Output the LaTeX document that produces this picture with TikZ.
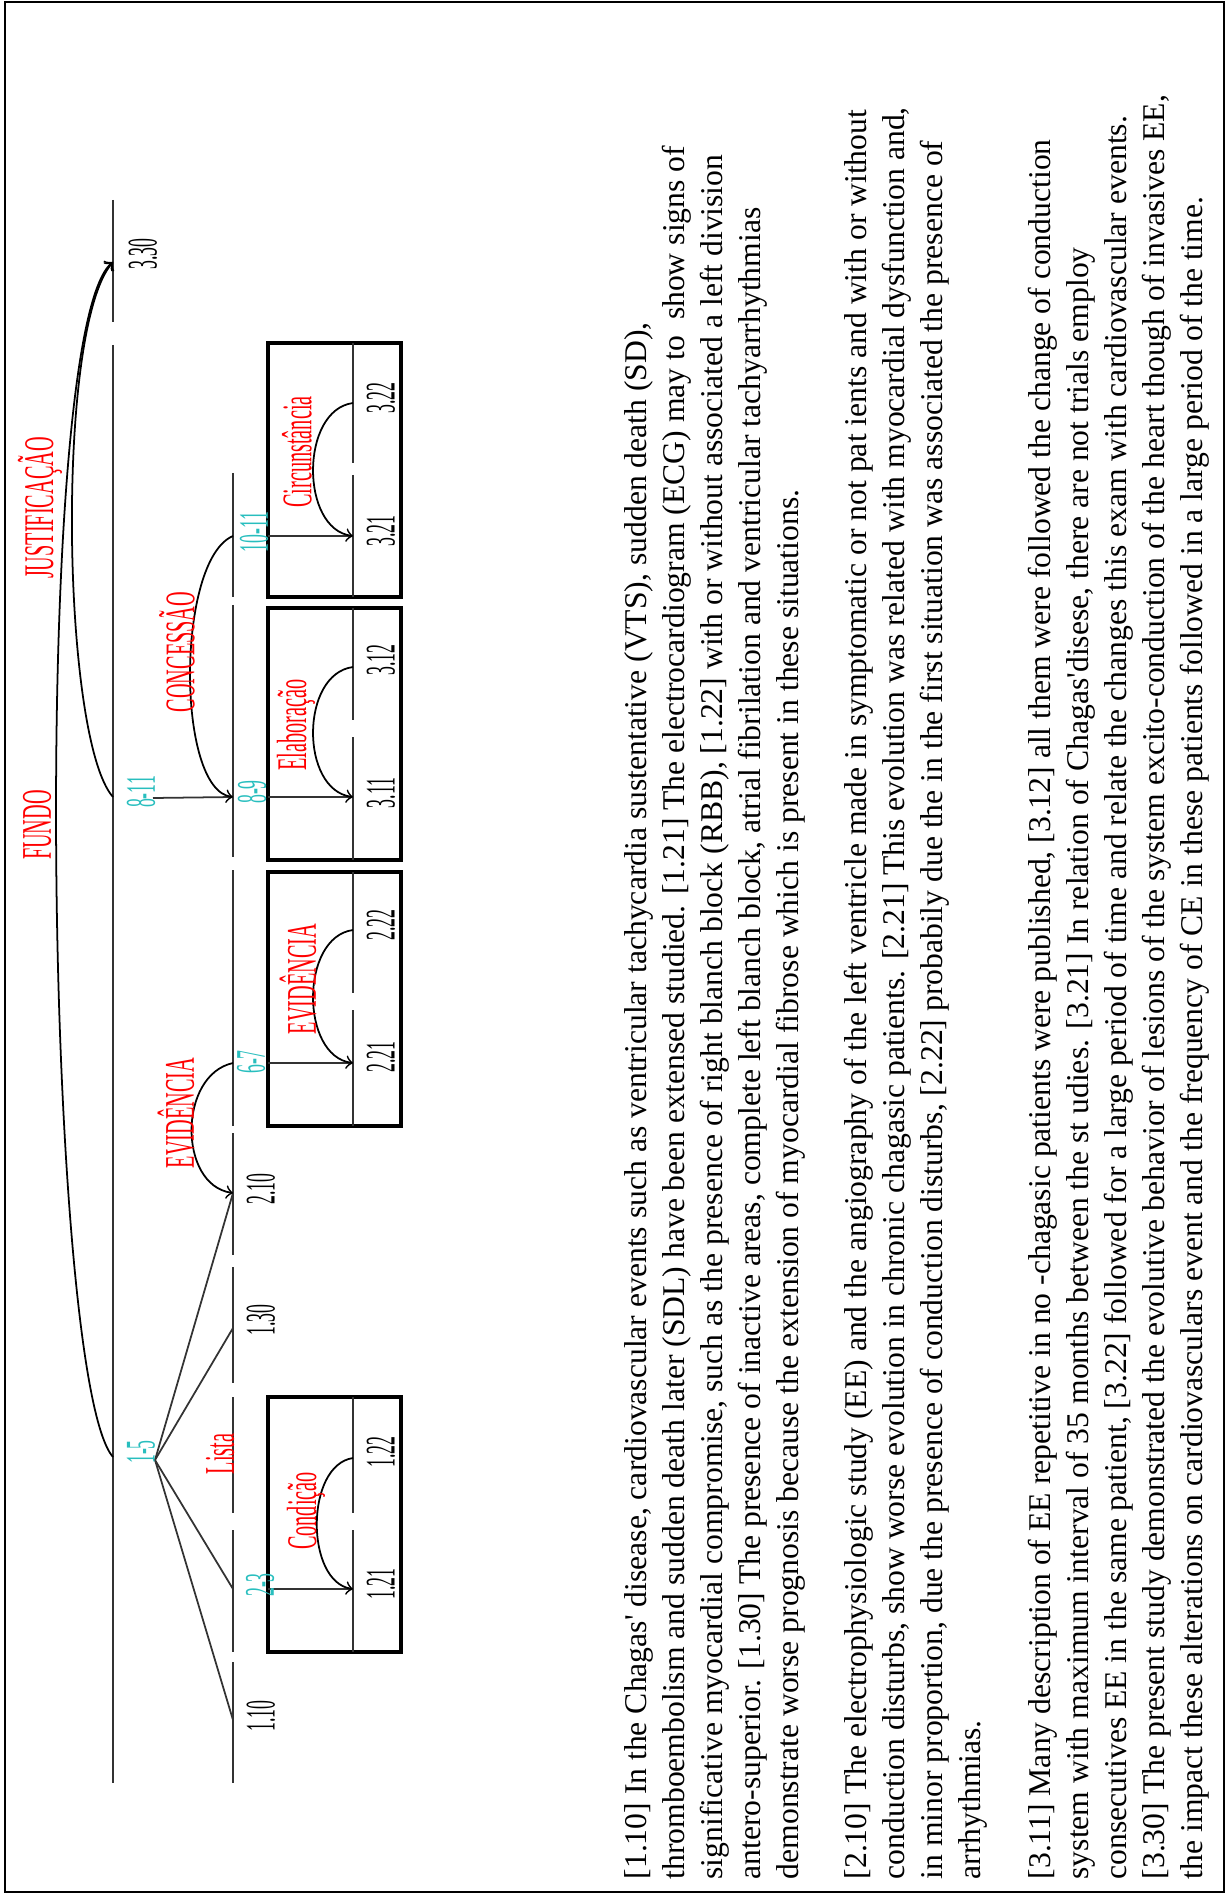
\documentclass[tikz,border=0pt]{standalone}
\usepackage{fontspec}
\setmainfont{Liberation Serif}
\newfontfamily\wordfont[FakeStretch=0.48]{Liberation Serif}
\newfontfamily\numfont[FakeStretch=0.42]{Liberation Serif}
\definecolor{relred}{RGB}{255,0,0}
\definecolor{spancyan}{RGB}{40,190,190}
\tikzset{
  axisline/.style={black!80, line width=0.5pt},
  relarc/.style={->, line width=0.5pt},
  unitbox/.style={line width=1.4pt},
  rellabel/.style={rotate=90, inner sep=0pt, text=relred, font=\wordfont\fontsize{12}{12}\selectfont},
  spanlabel/.style={rotate=90, inner sep=0pt, text=spancyan, font=\numfont\fontsize{12}{12}\selectfont},
  unitlabel/.style={rotate=90, inner sep=0pt, font=\numfont\fontsize{12}{12}\selectfont},
  bodyline/.style={rotate=90, anchor=base west, inner sep=0pt, font=\fontsize{9}{11}\selectfont}
}
\begin{document}
\begin{tikzpicture}[x=0.01cm, y=-0.01cm]
  \useasboundingbox (0,0) rectangle (1228,1895);
  \draw[line width=0.7pt] (5,2) rectangle (1224,1892);

  % the two levels
  \draw[axisline] (113,200) -- (113,322) (113,345) -- (113,1783);
  \foreach \a/\b in {473/597,605/857,870/1126,1133/1255,1267/1383,1397/1513,1530/1652,1662/1783}
    \draw[axisline] (233,\a) -- (233,\b);

  \coordinate (p330) at (113,262);
  \coordinate (p15top) at (113,1457);
  \coordinate (p811top) at (113,797);
  \coordinate (p15) at (155,1460);
  \coordinate (p811) at (153,798);
  \coordinate (p110) at (233,1720);
  \coordinate (p23) at (233,1589);
  \coordinate (p130) at (233,1328);
  \coordinate (p210) at (233,1193);
  \coordinate (p67) at (233,1063);
  \coordinate (p89) at (233,797);
  \coordinate (p1011) at (233,536);

  % fan of the list
  \foreach \p in {p110,p23,p130,p210}
    \draw[axisline] (p15) -- (\p);
  \draw[axisline] (p811) -- (p89);

  % boxes
  \draw[unitbox] (268,1397) rectangle (401,1652);
  \draw[unitbox] (268,872) rectangle (401,1126);
  \draw[unitbox] (268,608) rectangle (401,860);
  \draw[unitbox] (268,343) rectangle (401,597);
  \draw[axisline] (353,1397) -- (353,1513) (353,1530) -- (353,1652);
  \draw[axisline] (353,872) -- (353,993) (353,1010) -- (353,1126);
  \draw[axisline] (353,608) -- (353,720) (353,737) -- (353,860);
  \draw[axisline] (353,343) -- (353,463) (353,475) -- (353,597);

  \coordinate (b121) at (353,1589);
  \coordinate (b122) at (353,1458);
  \coordinate (b221) at (353,1063);
  \coordinate (b222) at (353,930);
  \coordinate (b311) at (353,797);
  \coordinate (b312) at (353,667);
  \coordinate (b321) at (353,536);
  \coordinate (b322) at (353,403);
  \draw[axisline] (268,1589) -- (b121);
  \draw[axisline] (268,1063) -- (b221);
  \draw[axisline] (268,797) -- (b311);
  \draw[axisline] (268,536) -- (b321);

  % relations
  \draw[relarc] (p15top) .. controls (45,1380) and (30,330) .. (p330);
  \draw[relarc] (p811top) .. controls (62,740) and (55,330) .. (p330);
  \draw[relarc] (p67) .. controls (178,1075) and (178,1185) .. (p210);
  \draw[relarc] (p1011) .. controls (176,560) and (176,790) .. (p89);
  \draw[relarc] (b122) .. controls (305,1465) and (305,1582) .. (b121);
  \draw[relarc] (b222) .. controls (300,937) and (300,1056) .. (b221);
  \draw[relarc] (b312) .. controls (300,674) and (300,790) .. (b311);
  \draw[relarc] (b322) .. controls (300,410) and (300,529) .. (b321);

  % labels
  \node[rellabel] (fundo) at (37,825) {FUNDO};
  \node[rellabel] (justif) at (40,508) {JUSTIFICAÇÃO};
  \node[rellabel] (evid) at (176,1113) {EVIDÊNCIA};
  \node[rellabel] (lista) at (220,1454) {Lista};
  \node[rellabel] (conc) at (177,652) {CONCESSÃO};
  \node[rellabel] (cond) at (306,1511) {Condição};
  \node[rellabel] (evidb) at (298,979) {EVIDÊNCIA};
  \node[rellabel] (elab) at (296,725) {Elaboração};
  \node[rellabel] (circ) at (297,452) {Circunstância};

  \node[spanlabel] (s15) at (141,1452) {1-5};
  \node[spanlabel] (s811) at (141,792) {8-11};
  \node[spanlabel] (s23) at (260,1585) {2-3};
  \node[spanlabel] (s67) at (251,1062) {6-7};
  \node[spanlabel] (s89) at (252,792) {8-9};
  \node[spanlabel] (s1011) at (254,532) {10-11};

  \node[unitlabel] (u330) at (143,254) {3.30};
  \node[unitlabel] (u110) at (261,1716) {1.10};
  \node[unitlabel] (u130) at (261,1320) {1.30};
  \node[unitlabel] (u210) at (261,1189) {2.10};
  \node[unitlabel] (u121) at (381,1584) {1.21};
  \node[unitlabel] (u122) at (381,1452) {1.22};
  \node[unitlabel] (u221) at (381,1057) {2.21};
  \node[unitlabel] (u222) at (381,925) {2.22};
  \node[unitlabel] (u311) at (381,793) {3.11};
  \node[unitlabel] (u312) at (381,660) {3.12};
  \node[unitlabel] (u321) at (381,531) {3.21};
  \node[unitlabel] (u322) at (381,398) {3.22};

  % text
  \foreach \t [count=\i] in {
    {[1.10] In the Chagas\textquotesingle\ disease, cardiovascular events such as ventricular tachycardia sustentative (VTS), sudden death (SD),},
    {thromboembolism and sudden death later (SDL) have been extensed studied. [1.21] The electrocardiogram (ECG) may to\ \ show signs of},
    {significative myocardial compromise, such as the presence of right blanch block (RBB), [1.22] with or without associated a left division},
    {antero-superior. [1.30] The presence of inactive areas, complete left blanch block, atrial fibrilation and ventricular tachyarrhythmias},
    {demonstrate worse prognosis because the extension of myocardial fibrose which is present in these situations.}}
    \node[bodyline] (pa\i) at ({646+38*(\i-1)},1880) {\t};
  \foreach \t [count=\i] in {
    {[2.10] The electrophysiologic study (EE) and the angiography of the left ventricle made in symptomatic or not pat ients and with or without},
    {conduction disturbs, show worse evolution in chronic chagasic patients. [2.21] This evolution was related with myocardial dysfunction and,},
    {in minor proportion, due the presence of conduction disturbs, [2.22] probabily due the in the first situation was associated the presence of},
    {arrhythmias.}}
    \node[bodyline] (pb\i) at ({866+38*(\i-1)},1880) {\t};
  \foreach \t [count=\i] in {
    {[3.11] Many description of EE repetitive in no -chagasic patients were published, [3.12] all them were followed the change of conduction},
    {system with maximum interval of 35 months between the st udies. [3.21] In relation of Chagas\textquotesingle disese, there are not trials employ},
    {consecutives EE in the same patient, [3.22] followed for a large period of time and relate the changes this exam with cardiovascular events.},
    {[3.30] The present study demonstrated the evolutive behavior of lesions of the system excito-conduction of the heart though of invasives EE,},
    {the impact these alterations on cardiovasculars event and the frequency of CE in these patients followed in a large period of the time.}}
    \node[bodyline] (pc\i) at ({1050+38*(\i-1)},1880) {\t};
\end{tikzpicture}
\end{document}
